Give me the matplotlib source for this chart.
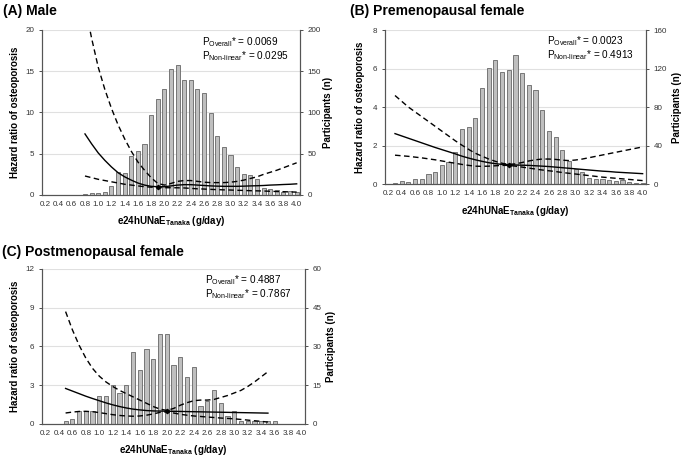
import numpy as np
import matplotlib
matplotlib.use("Agg")
import matplotlib.pyplot as plt

# ── Data ──
cats = [round(0.2 + 0.1 * i, 1) for i in range(39)]  # 0.2 .. 4.0

# participants per bin
male_n = [0, 0, 0, 0, 0, 0, 1, 2, 3, 4, 11, 28, 27, 47, 53, 62, 97, 116, 129,
          153, 158, 139, 139, 128, 124, 99, 71, 58, 48, 34, 26, 24, 19, 8, 7, 6, 4, 5, 4]
pre_n = [0, 1, 3, 2, 5, 5, 10, 13, 20, 23, 33, 57, 59, 69, 100, 121, 129, 116, 118,
         134, 115, 103, 98, 77, 55, 49, 35, 24, 16, 13, 6, 5, 5, 4, 3, 4, 2, 1, 1]
post_n = [0, 0, 0, 1, 2, 5, 5, 5, 11, 11, 15, 12, 15, 28, 21, 29, 25, 35, 35,
          23, 26, 18, 22, 7, 9, 13, 8, 3, 5, 1, 1.2, 1, 1, 1, 1, 0, 0, 0, 0]

# hazard ratio curves (male: 0.8-4.0)
male_x = [round(0.8 + 0.1 * i, 1) for i in range(33)]
male_hr = [7.4, 6.2, 5.1, 4.2, 3.4, 2.7, 2.2, 1.8, 1.45, 1.2, 1.05, 1.0, 1.0, 1.1, 1.2,
           1.25, 1.25, 1.2, 1.15, 1.1, 1.07, 1.05, 1.05, 1.05, 1.07, 1.1, 1.12, 1.15,
           1.2, 1.23, 1.27, 1.3, 1.35]
male_up = [23, 19, 15.5, 12.8, 10.5, 8.5, 6.8, 5.3, 4.0, 3.0, 2.1, 1.4, 1.2, 1.4, 1.65,
           1.75, 1.75, 1.65, 1.55, 1.5, 1.5, 1.5, 1.55, 1.65, 1.8, 2.0, 2.2, 2.5, 2.75,
           3.0, 3.3, 3.6, 3.9]
male_lo = [2.3, 2.1, 1.9, 1.75, 1.6, 1.45, 1.3, 1.2, 1.1, 1.0, 0.95, 0.9, 0.88, 0.88,
           0.87, 0.85, 0.8, 0.75, 0.72, 0.68, 0.65, 0.62, 0.6, 0.57, 0.55, 0.52, 0.5,
           0.48, 0.45, 0.42, 0.4, 0.37, 0.35]

# premenopausal: 0.3-4.0
pre_x = [round(0.3 + 0.1 * i, 1) for i in range(38)]
pre_hr = [2.62, 2.5, 2.38, 2.26, 2.14, 2.02, 1.9, 1.79, 1.68, 1.57, 1.45, 1.35, 1.26,
          1.18, 1.11, 1.06, 1.02, 1.0, 0.99, 0.98, 0.97, 0.95, 0.93, 0.91, 0.88, 0.85,
          0.82, 0.79, 0.76, 0.73, 0.7, 0.67, 0.65, 0.62, 0.6, 0.58, 0.56, 0.54]
pre_up = [4.6, 4.3, 4.0, 3.75, 3.5, 3.25, 3.0, 2.75, 2.5, 2.25, 2.02, 1.8, 1.6, 1.45,
          1.3, 1.18, 1.08, 1.02, 1.05, 1.12, 1.2, 1.26, 1.3, 1.3, 1.28, 1.24, 1.22, 1.25,
          1.3, 1.37, 1.44, 1.51, 1.58, 1.65, 1.72, 1.79, 1.86, 1.93]
pre_lo = [1.5, 1.47, 1.44, 1.4, 1.36, 1.31, 1.26, 1.2, 1.14, 1.08, 1.02, 0.97, 0.93,
          0.92, 0.93, 0.95, 0.97, 0.97, 0.93, 0.88, 0.83, 0.78, 0.73, 0.69, 0.65, 0.6,
          0.56, 0.52, 0.48, 0.44, 0.4, 0.36, 0.33, 0.3, 0.27, 0.24, 0.21, 0.18]

# postmenopausal: 0.5-3.5
post_x = [round(0.5 + 0.1 * i, 1) for i in range(31)]
post_hr = [2.75, 2.55, 2.35, 2.15, 1.97, 1.8, 1.63, 1.48, 1.35, 1.24, 1.15, 1.09, 1.04,
           1.01, 1.0, 0.99, 0.98, 0.97, 0.96, 0.95, 0.94, 0.93, 0.92, 0.91, 0.9, 0.89,
           0.88, 0.87, 0.86, 0.85, 0.84]
post_up = [8.7, 7.3, 6.1, 5.1, 4.3, 3.7, 3.25, 2.9, 2.6, 2.35, 2.1, 1.85, 1.6, 1.35,
           1.15, 1.05, 1.2, 1.45, 1.65, 1.8, 1.85, 1.85, 1.9, 2.05, 2.2, 2.4, 2.6, 2.9,
           3.25, 3.65, 4.05]
post_lo = [0.85, 0.92, 0.97, 0.98, 0.95, 0.88, 0.8, 0.72, 0.66, 0.62, 0.6, 0.62, 0.68,
           0.78, 0.9, 0.95, 0.85, 0.75, 0.68, 0.62, 0.58, 0.54, 0.5, 0.46, 0.43, 0.4,
           0.35, 0.3, 0.25, 0.2, 0.15]

ref_points = {"A": 1.9, "B": 2.0, "C": 2.0}

# ── Style ──
FONT = "Liberation Sans"
plt.rcParams.update({
    "font.family": FONT,
    "mathtext.fontset": "custom",
    "mathtext.rm": FONT,
    "mathtext.bf": FONT + ":bold",
    "mathtext.it": FONT + ":italic",
})
BAR_FILL = "#bfbfbf"
BAR_EDGE = "#666666"
TICK_COLOR = "#333333"


def panel(fig, rect, title, title_xy, n, hx, hr, up, lo, hr_max, n_max, n_step,
          p_all, p_nl, ref, ylab_x, rlab_x):
    ax = fig.add_axes(rect)
    ax2 = ax.twinx()
    ax.set_zorder(ax2.get_zorder() + 1)
    ax.patch.set_visible(False)

    idx = {c: i for i, c in enumerate(cats)}
    pos = np.arange(len(cats))
    ax2.bar(pos, n, width=0.62, color=BAR_FILL, edgecolor=BAR_EDGE, linewidth=0.6)
    ax2.set_ylim(0, n_max)
    ax2.set_yticks(np.arange(0, n_max + 0.1, n_step))
    ax2.yaxis.grid(True, color="#e0e0e0", linewidth=0.8)
    ax2.set_axisbelow(True)

    xp = [idx[v] for v in hx]
    ax.plot(xp, hr, color="black", linewidth=1.0)
    ax.plot(xp, up, color="black", linewidth=1.0, linestyle=(0, (4, 2.5)))
    ax.plot(xp, lo, color="black", linewidth=1.0, linestyle=(0, (4, 2.5)))
    ax.plot([idx[ref]], [1.0], marker="D", markersize=2.2, color="black")

    ax.set_xlim(-0.5, len(cats) - 0.5)
    ax.set_ylim(0, hr_max)
    ax.set_yticks(np.linspace(0, hr_max, 5))
    ax.set_yticklabels([f"{v:g}" for v in np.linspace(0, hr_max, 5)])
    ax.set_xticks(pos[::2])
    ax.set_xticklabels([f"{c:.1f}" for c in cats[::2]])

    for a in (ax, ax2):
        a.spines["top"].set_visible(False)
        for s in ("left", "right", "bottom"):
            a.spines[s].set_color("#555555")
            a.spines[s].set_linewidth(0.8)
        a.tick_params(labelsize=5.8, colors=TICK_COLOR, length=2, width=0.6)
    ax.tick_params(axis="x", length=0, pad=4)

    ax.set_ylabel("Hazard ratio of osteoporosis", fontsize=7, fontweight="bold")
    ax2.set_ylabel("Participants (n)", fontsize=7, fontweight="bold")
    ax.set_xlabel(r"e24hUNaE$_{\mathbf{Tanaka}}$ (g/day)", fontsize=7, fontweight="bold")
    ax.yaxis.set_label_coords(ylab_x, 0.5)
    ax2.yaxis.set_label_coords(rlab_x, 0.5)
    ax.xaxis.labelpad = 5

    ax.text(0.62, 0.97, r"P$_{\rm Overall}$* = " + p_all, transform=ax.transAxes,
            fontsize=7.2, va="top", ha="left")
    ax.text(0.62, 0.885, r"P$_{\rm Non\text{-}linear}$* = " + p_nl, transform=ax.transAxes,
            fontsize=7.2, va="top", ha="left")

    fig.text(title_xy[0], title_xy[1], title, fontsize=10, fontweight="bold",
             ha="left", va="center")
    return ax


fig = plt.figure(figsize=(6.85, 4.59), dpi=100)

panel(fig, [0.0613, 0.5752, 0.3766, 0.3595], "(A) Male", (0.004, 0.975),
      male_n, male_x, male_hr, male_up, male_lo, 20, 200, 50,
      "0.0069", "0.0295", ref_points["A"], -0.085, 1.09)
panel(fig, [0.562, 0.599, 0.381, 0.3355], "(B) Premenopausal female", (0.511, 0.975),
      pre_n, pre_x, pre_hr, pre_up, pre_lo, 8, 160, 40,
      "0.0023", "0.4913", ref_points["B"], -0.075, 1.1)
panel(fig, [0.0613, 0.0763, 0.384, 0.3377], "(C) Postmenopausal female", (0.003, 0.45),
      post_n, post_x, post_hr, post_up, post_lo, 12, 60, 15,
      "0.4887", "0.7867", ref_points["C"], -0.085, 1.08)

fig.savefig("out.png", dpi=100)
